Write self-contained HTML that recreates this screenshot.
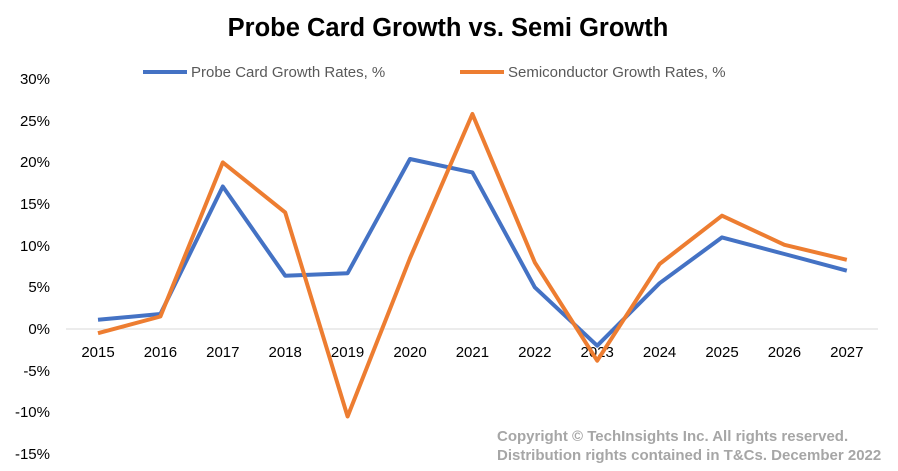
<!DOCTYPE html>
<html><head><meta charset="utf-8"><style>
body{margin:0;background:#fff;}
svg{display:block;font-family:"Liberation Sans",sans-serif;}
</style></head><body>
<svg width="898" height="471" viewBox="0 0 898 471">
<rect width="898" height="471" fill="#fff"/>
<text x="448" y="36" text-anchor="middle" font-size="25.5" font-weight="bold" fill="#000">Probe Card Growth vs. Semi Growth</text>
<line x1="143" y1="72" x2="187" y2="72" stroke="#4472C4" stroke-width="4"/>
<text x="191" y="77" font-size="15" fill="#595959">Probe Card Growth Rates, %</text>
<line x1="460" y1="72" x2="504" y2="72" stroke="#ED7D31" stroke-width="4"/>
<text x="508" y="77" font-size="15" fill="#595959">Semiconductor Growth Rates, %</text>
<g font-size="15" fill="#000" text-anchor="end">
<text x="50" y="84">30%</text><text x="50" y="126">25%</text><text x="50" y="167">20%</text>
<text x="50" y="209">15%</text><text x="50" y="251">10%</text><text x="50" y="292">5%</text>
<text x="50" y="334">0%</text><text x="50" y="376">-5%</text><text x="50" y="417">-10%</text>
<text x="50" y="459">-15%</text>
</g>
<line x1="66" y1="329" x2="878" y2="329" stroke="#d9d9d9" stroke-width="1"/>
<g font-size="15" fill="#000" text-anchor="middle">
<text x="98" y="357">2015</text><text x="160.4" y="357">2016</text><text x="222.8" y="357">2017</text>
<text x="285.2" y="357">2018</text><text x="347.6" y="357">2019</text><text x="410" y="357">2020</text>
<text x="472.4" y="357">2021</text><text x="534.8" y="357">2022</text><text x="597.2" y="357">2023</text>
<text x="659.6" y="357">2024</text><text x="722" y="357">2025</text><text x="784.4" y="357">2026</text>
<text x="846.8" y="357">2027</text>
</g>
<polyline fill="none" stroke="#4472C4" stroke-width="4" stroke-linejoin="round" points="98,319.8 160.4,314 222.8,186.5 285.2,275.7 347.6,273.2 410,159 472.4,172.4 534.8,287.3 597.2,345.7 659.6,283.2 722,237.4 784.4,254 846.8,270.7"/>
<polyline fill="none" stroke="#ED7D31" stroke-width="4" stroke-linejoin="round" points="98,333.2 160.4,316.5 222.8,162.4 285.2,212.4 347.6,416.5 410,258.2 472.4,114 534.8,262.4 597.2,360.7 659.6,264 722,215.7 784.4,244.8 846.8,259.8"/>
<g font-size="15" font-weight="bold" fill="#a6a6a6">
<text x="497" y="441">Copyright © TechInsights Inc. All rights reserved.</text>
<text x="497" y="460">Distribution rights contained in T&amp;Cs. December 2022</text>
</g>
</svg>
</body></html>
